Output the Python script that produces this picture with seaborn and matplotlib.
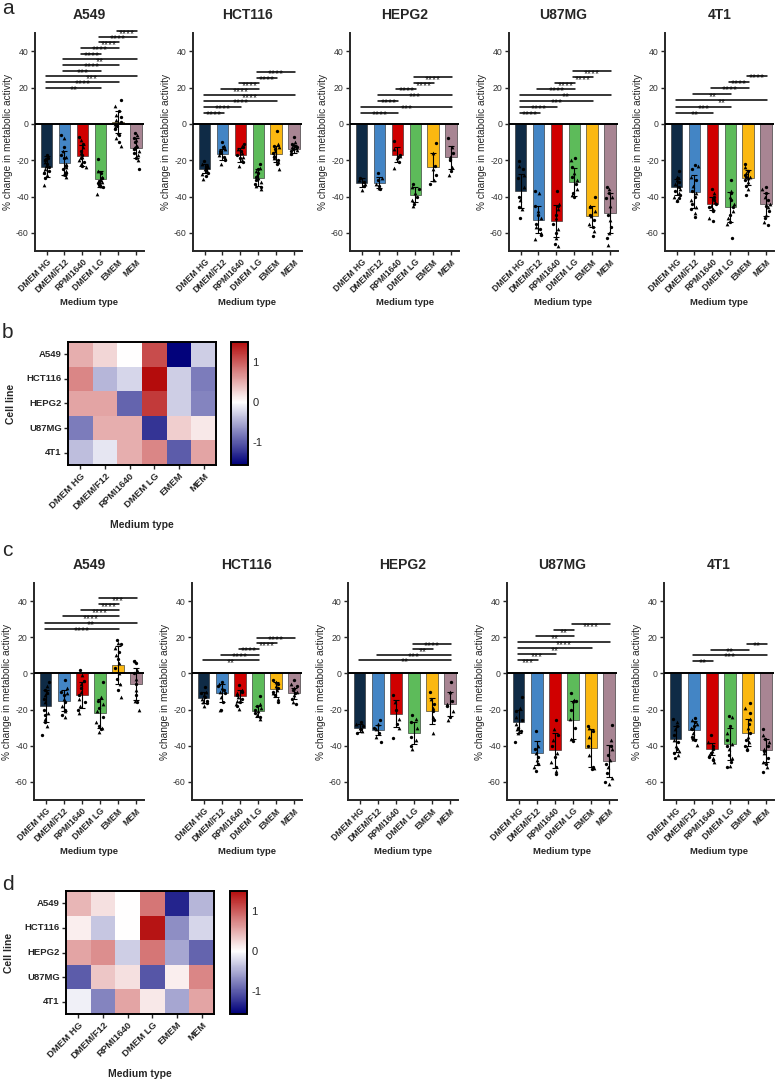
import numpy as np
import pandas as pd
import matplotlib
matplotlib.use("Agg")
import matplotlib.pyplot as plt
from matplotlib.colors import LinearSegmentedColormap
import seaborn as sns

sns.set_style("ticks")
plt.rcParams['font.family'] = ['Liberation Sans', 'DejaVu Sans']

MEDIA = ["DMEM HG", "DMEM/F12", "RPMI1640", "DMEM LG", "EMEM", "MEM"]
CELL_LINES = ["A549", "HCT116", "HEPG2", "U87MG", "4T1"]
BAR_COLORS = ["#0f2b46", "#4385c5", "#d00000", "#5dbb5a", "#fbb811", "#a88593"]

# ---------------- panel a ----------------
a_A549_mean = [-23.5, -21.7, -17.6, -30.5, 1.0, -13.3]
a_A549_sd = [6.0, 6.5, 5.8, 4.4, 6.0, 5.4]
a_A549_pts = [
    [-17, -18, -19, -19.5, -20, -21, -22, -23, -24, -25, -26, -26.5, -27, -28, -30, -33.5],
    [-6, -8, -13, -15, -17, -18, -19, -22, -23, -24, -25, -26, -27, -27.5, -28, -29],
    [-7.5, -9, -11, -13, -15, -16, -17, -18, -19, -20, -21, -22, -23, -24],
    [-19.5, -26, -27, -29, -30, -31, -31.5, -32, -32.5, -33, -33.5, -34, -35, -38.5],
    [13, 10, 7, 5, 4, 2, 1, 0, -1, -2, -3, -5, -6, -8, -10, -12],
    [-5, -6, -8, -9, -10, -12, -13, -13.5, -14, -15, -16, -17, -19, -20, -25],
]
a_A549_sig = [(0, 3, "**"), (0, 4, "****"), (0, 5, "***"), (1, 3, "***"), (1, 4, "****"),
              (1, 5, "**"), (2, 3, "****"), (2, 4, "****"), (3, 4, "****"), (3, 5, "****"), (4, 5, "****")]

a_HCT116_mean = [-24.6, -16.7, -17.2, -29.6, -16.7, -13.9]
a_HCT116_sd = [2.3, 3.0, 3.8, 4.5, 4.5, 2.3]
a_HCT116_pts = [
    [-20.5, -22, -23, -24, -24.5, -25, -25.5, -26, -27, -27.5, -28.5, -30.5],
    [-10, -12, -13, -14, -15, -15.5, -16, -17, -18, -19, -20, -22],
    [-11, -12, -13, -14, -15, -16, -17, -18, -19, -20, -21, -23],
    [-22, -24.5, -25, -26, -27, -28, -29, -30, -31, -32, -33, -34, -35, -36],
    [-4, -11, -12, -13, -14, -15, -16, -17, -18, -19, -20, -21, -22, -25],
    [-7, -10, -11, -11.5, -12, -12.5, -13, -13.5, -14, -14.5, -15, -16, -16.5],
]
a_HCT116_sig = [(0, 1, "****"), (0, 2, "****"), (0, 4, "****"), (0, 5, "****"),
                (1, 3, "****"), (2, 3, "****"), (3, 4, "****"), (3, 5, "****")]

a_HEPG2_mean = [-32.4, -32.4, -17.0, -38.9, -23.7, -18.5]
a_HEPG2_sd = [2.5, 3.0, 4.0, 4.0, 7.5, 6.5]
a_HEPG2_pts = [
    [-30, -31, -32, -33, -34, -36.5],
    [-27, -30, -31, -33, -34, -35.5, -36],
    [-9.5, -14, -17, -17.5, -18, -19, -21, -24.5],
    [-33, -35, -36, -38, -40, -42, -44, -45],
    [-10.5, -16, -23, -25, -28, -31, -33],
    [-8, -13, -16, -18, -20, -24, -26, -28],
]
a_HEPG2_sig = [(0, 2, "****"), (0, 5, "***"), (1, 2, "****"), (1, 5, "***"),
               (2, 3, "****"), (3, 4, "****"), (3, 5, "****")]

a_U87MG_mean = [-37.0, -52.8, -53.3, -32.0, -51.0, -49.0]
a_U87MG_sd = [9.5, 7.3, 8.8, 7.5, 5.8, 11.0]
a_U87MG_pts = [
    [-20.5, -23, -25, -28, -30, -35, -40, -42, -46, -47, -52],
    [-37, -38, -45, -48, -50, -52, -55, -57, -58, -60, -61, -63.5],
    [-37, -44, -45, -47, -50, -52, -55, -58, -60, -63, -66, -67],
    [-19, -20, -24, -27, -29, -31, -33, -36, -38, -39, -40.5],
    [-40, -45, -46, -48, -50, -51, -53, -55, -57, -59, -61.5],
    [-35, -36, -38, -40, -41, -45, -50, -53, -57, -60, -63, -66.5],
]
a_U87MG_sig = [(0, 1, "****"), (0, 2, "****"), (0, 4, "***"), (0, 5, "**"),
               (1, 3, "****"), (2, 3, "****"), (3, 4, "****"), (3, 5, "****")]

a_4T1_mean = [-34.8, -37.4, -43.9, -45.7, -29.6, -44.4]
a_4T1_sd = [4.5, 9.0, 3.5, 8.3, 4.0, 6.3]
a_4T1_pts = [
    [-26, -29, -30, -31, -32, -33, -35, -36, -37, -38, -39, -40, -41, -42, -42.5],
    [-22.5, -23, -25, -29, -31, -34, -37, -38, -40, -42, -44, -46, -47, -49, -51.5],
    [-36, -38, -40, -41, -42, -43, -44, -45, -46, -47, -48, -52, -53.5],
    [-31, -37, -38, -40, -42, -44, -46, -48, -50, -52, -54, -55, -63],
    [-22, -24, -26, -27, -28, -29, -29.5, -30, -31, -32, -34, -36, -39],
    [-35, -36, -38, -40, -42, -44, -45, -46, -48, -50, -52, -54, -55.5],
]
a_4T1_sig = [(0, 2, "**"), (0, 3, "***"), (0, 5, "**"), (1, 3, "**"),
             (2, 4, "****"), (3, 4, "****"), (4, 5, "****")]

# ---------------- panel c ----------------
c_A549_mean = [-18.0, -15.0, -12.0, -22.0, 4.6, -5.9]
c_A549_sd = [9.0, 6.0, 7.3, 8.0, 10.3, 9.0]
c_A549_pts = [
    [-5, -7, -9, -10, -11, -12, -14, -16, -20, -22, -23, -25, -27, -29, -34],
    [-3.5, -8, -10, -11, -12, -14, -16, -18, -20, -21, -23, -24],
    [2, -1, -4, -6, -8, -10, -12, -14, -16, -18, -20, -22],
    [-4.5, -13, -15, -17, -19, -21, -24, -27, -29, -30, -31, -32.5],
    [18.5, 17, 16, 14, 12, 10, 8, 6, 3, 0, -3, -6, -9, -13],
    [7, 7, 6, 2, 0, -3, -6, -9, -12, -15, -16, -20],
]
c_A549_sig = [(0, 4, "****"), (0, 5, "**"), (1, 4, "****"), (2, 4, "****"), (3, 4, "****"), (3, 5, "***")]

c_HCT116_mean = [-13.4, -10.6, -12.5, -21.0, -8.8, -11.0]
c_HCT116_sd = [3.2, 5.0, 3.5, 3.0, 4.2, 3.0]
c_HCT116_pts = [
    [-7.5, -10, -11, -12, -13, -14, -15, -16, -16.5, -18],
    [-4.5, -6, -7, -8, -9, -10, -11, -13, -16, -20, -20.5],
    [-6.5, -9, -10, -11, -12, -13, -14, -15, -16, -17, -18, -19.5],
    [-12.5, -17, -18, -19, -20, -21, -22, -23, -24, -25],
    [-3.5, -5, -6, -7, -8, -9, -10, -11, -12, -14, -16],
    [-3.5, -6, -7, -8, -9, -10, -11, -12, -14, -16, -17],
]
c_HCT116_sig = [(0, 3, "**"), (1, 3, "****"), (2, 3, "****"), (3, 4, "****"), (3, 5, "****")]

c_HEPG2_mean = [-30.2, -31.1, -22.2, -33.0, -20.7, -17.0]
c_HEPG2_sd = [2.2, 2.8, 7.3, 6.3, 7.0, 6.8]
c_HEPG2_pts = [
    [-27, -28, -29, -30, -31, -32, -33],
    [-25.5, -28, -30, -31, -33, -35, -38],
    [-12, -16, -20, -25, -28, -30, -35.5],
    [-23, -25, -27, -30, -35, -37, -40, -42],
    [-10.5, -14, -17, -19, -21, -24, -26, -33],
    [-5, -10, -15, -17, -18, -21, -24, -26],
]
c_HEPG2_sig = [(0, 5, "**"), (1, 5, "***"), (3, 4, "**"), (3, 5, "****")]

c_U87MG_mean = [-26.6, -44.0, -42.6, -26.0, -41.0, -48.6]
c_U87MG_sd = [6.5, 6.8, 9.8, 10.5, 10.5, 8.8]
c_U87MG_pts = [
    [-13, -19, -21, -24, -26, -28, -30, -31, -32, -33, -38],
    [-32, -40, -42, -44, -46, -48, -50, -52, -54],
    [-25.5, -31, -34, -37, -40, -44, -46, -49, -52, -54, -55.5],
    [-11, -14.5, -15, -15.5, -20, -25, -30, -36, -37.5],
    [-29, -30, -32, -35, -40, -45, -52, -52.5, -53],
    [-28.5, -37, -40, -42, -45, -48, -50, -52, -55, -58, -60, -61],
]
c_U87MG_sig = [(0, 1, "***"), (0, 2, "***"), (0, 4, "**"), (0, 5, "****"),
               (1, 3, "**"), (2, 3, "**"), (3, 5, "****")]

c_4T1_mean = [-36.3, -31.2, -41.8, -39.0, -32.7, -42.6]
c_4T1_sd = [7.2, 5.0, 3.3, 8.7, 7.7, 6.5]
c_4T1_pts = [
    [-25, -27, -29, -31, -34, -37, -38, -40, -42, -43, -44, -45, -46.5],
    [-24.5, -26, -27, -28, -29, -30, -31, -33, -35, -36, -37, -39.5],
    [-34, -38, -40, -41, -42, -43, -44, -45, -46, -47, -48, -49],
    [-23.5, -24, -29, -33, -37, -39, -40, -42, -45, -47, -49, -51, -52],
    [-16.5, -19, -22, -25, -28, -30, -33, -35, -37, -38, -40, -41, -42.5],
    [-31, -34, -36, -38, -40, -42, -43, -44, -47, -49, -50, -52, -54.5],
]
c_4T1_sig = [(1, 2, "**"), (1, 5, "***"), (2, 4, "**"), (4, 5, "**")]

# ---------------- heatmaps (b, d) ----------------
b_heat = [
    [0.50, 0.25, 0.00, 1.10, -1.55, -0.30],
    [0.75, -0.45, -0.25, 1.50, -0.30, -0.80],
    [0.55, 0.55, -0.95, 1.20, -0.30, -0.75],
    [-0.80, 0.50, 0.50, -1.25, 0.30, 0.15],
    [-0.40, -0.15, 0.50, 0.75, -1.00, 0.55],
]
d_heat = [
    [0.45, 0.20, 0.00, 0.85, -1.35, -0.45],
    [0.10, -0.35, 0.00, 1.45, -0.70, -0.25],
    [0.55, 0.70, -0.30, 0.85, -0.55, -0.95],
    [-1.00, 0.35, 0.20, -1.05, 0.10, 0.75],
    [-0.10, -0.75, 0.55, 0.15, -0.55, 0.55],
]

panel_a = {
    "A549": (a_A549_mean, a_A549_sd, a_A549_pts, a_A549_sig),
    "HCT116": (a_HCT116_mean, a_HCT116_sd, a_HCT116_pts, a_HCT116_sig),
    "HEPG2": (a_HEPG2_mean, a_HEPG2_sd, a_HEPG2_pts, a_HEPG2_sig),
    "U87MG": (a_U87MG_mean, a_U87MG_sd, a_U87MG_pts, a_U87MG_sig),
    "4T1": (a_4T1_mean, a_4T1_sd, a_4T1_pts, a_4T1_sig),
}
panel_c = {
    "A549": (c_A549_mean, c_A549_sd, c_A549_pts, c_A549_sig),
    "HCT116": (c_HCT116_mean, c_HCT116_sd, c_HCT116_pts, c_HCT116_sig),
    "HEPG2": (c_HEPG2_mean, c_HEPG2_sd, c_HEPG2_pts, c_HEPG2_sig),
    "U87MG": (c_U87MG_mean, c_U87MG_sd, c_U87MG_pts, c_U87MG_sig),
    "4T1": (c_4T1_mean, c_4T1_sd, c_4T1_pts, c_4T1_sig),
}

# layout: bracket base heights / steps
a_base = {"A549": (20, 3.1), "HCT116": (6, 3.25), "HEPG2": (6.1, 3.25), "U87MG": (6.1, 3.25), "4T1": (6.1, 3.4)}
c_base = {"A549": (24.8, 3.35), "HCT116": (7.3, 3.1), "HEPG2": (7.4, 3.0), "U87MG": (7.3, 3.3), "4T1": (7.0, 3.1)}

W, H = 778, 1081
fig = plt.figure(figsize=(W / 100, H / 100), dpi=100)


def px_axes(left, top, width, height):
    return fig.add_axes([left / W, 1 - (top + height) / H, width / W, height / H])


np.random.seed(3)


def bar_panel(ax, name, data, base):
    means, sds, pts, sig = data
    sns.barplot(x=MEDIA, y=means, hue=MEDIA, palette=BAR_COLORS, order=MEDIA, hue_order=MEDIA,
                legend=False, width=0.64, errorbar=None, ax=ax, edgecolor="#222222",
                linewidth=0.4, saturation=1, zorder=2)
    rows = []
    for m, vals in zip(MEDIA, pts):
        for k, v in enumerate(vals):
            rows.append({"medium": m, "value": v, "mk": "o" if k % 2 == 0 else "^"})
    df = pd.DataFrame(rows)
    for mk, sz in (("o", 2.4), ("^", 2.7)):
        sub = df[df["mk"] == mk]
        sns.stripplot(data=sub, x="medium", y="value", order=MEDIA, color="black", marker=mk,
                      size=sz, jitter=0.2, linewidth=0, ax=ax, zorder=4)
    ax.errorbar(np.arange(len(MEDIA)), means, yerr=sds, fmt="none", ecolor="black",
                elinewidth=0.8, capsize=2.2, capthick=0.8, zorder=5)
    ax.axhline(0, color="black", lw=1.4, zorder=6)
    y0, step = base
    for k, (i, j, s) in enumerate(sig):
        y = y0 + k * step
        ax.plot([i - 0.06, j + 0.06], [y, y], color="black", lw=1.1, clip_on=False, zorder=6)
        ax.annotate(s, xy=((i + j) / 2, y), xytext=(0, -3.9), textcoords="offset points",
                    ha="center", va="baseline", fontsize=7.4, color="#222222",
                    annotation_clip=False)
    ax.set_ylim(-70, 50)
    ax.set_xlim(-0.65, 5.45)
    ax.set_yticks([-60, -40, -20, 0, 20, 40])
    ax.set_yticklabels(["-60", "-40", "-20", "0", "20", "40"], fontsize=6.3, color="#333333")
    ax.set_xticks(range(len(MEDIA)))
    ax.set_xticklabels(MEDIA, rotation=45, ha="right", rotation_mode="anchor",
                       fontsize=6.2, fontweight="bold")
    ax.tick_params(axis="both", length=3, width=1, pad=1.5)
    for sp in ("top", "right"):
        ax.spines[sp].set_visible(False)
    for sp in ("left", "bottom"):
        ax.spines[sp].set_linewidth(1.4)
    ax.set_title(name, fontsize=10, fontweight="bold", pad=10)
    ax.set_ylabel("% change in metabolic activity", fontsize=7.3)
    ax.yaxis.set_label_coords(-0.2, 0.5)
    ax.set_xlabel("Medium type", fontsize=6.8, fontweight="bold")
    ax.xaxis.set_label_coords(0.5, -0.215)


a_lefts = [35, 193, 350, 509, 665]
c_lefts = [34, 192, 348, 507, 664]
for left, name in zip(a_lefts, CELL_LINES):
    ax = px_axes(left, 33, 109, 218)
    bar_panel(ax, name, panel_a[name], a_base[name])
for left, name in zip(c_lefts, CELL_LINES):
    ax = px_axes(left, 583, 110, 217)
    bar_panel(ax, name, panel_c[name], c_base[name])

cmap = LinearSegmentedColormap.from_list("bwr_gp", ["#00007a", "#ffffff", "#b00000"])


def heat_panel(left, top, cleft, vals):
    axh = px_axes(left, top, 148, 123)
    cax = px_axes(cleft, top, 17, 123)
    df = pd.DataFrame(vals, index=CELL_LINES, columns=MEDIA)
    sns.heatmap(df, ax=axh, cbar_ax=cax, cmap=cmap, vmin=-1.58, vmax=1.5, center=0,
                linewidths=0)
    for sp in axh.spines.values():
        sp.set_visible(True)
        sp.set_linewidth(1.4)
        sp.set_color("black")
    axh.set_xticklabels(MEDIA, rotation=45, ha="right", rotation_mode="anchor",
                        fontsize=6.8, fontweight="bold")
    axh.set_yticklabels(CELL_LINES, rotation=0, fontsize=6.8, fontweight="bold")
    axh.tick_params(axis="both", length=3, width=1, pad=1.5)
    axh.set_ylabel("Cell line", fontsize=7.5, fontweight="bold")
    axh.yaxis.set_label_coords(-0.35, 0.5)
    axh.set_xlabel("Medium type", fontsize=7.5, fontweight="bold")
    axh.xaxis.set_label_coords(0.5, -0.45)
    cb = axh.collections[0].colorbar
    cb.outline.set_linewidth(1.4)
    cb.outline.set_edgecolor("black")
    cb.set_ticks([-1, 0, 1])
    cb.set_ticklabels(["-1", "0", "1"])
    cax.tick_params(labelsize=8, direction="in", length=3, width=0.8, pad=3)


heat_panel(68, 342, 231, b_heat)
heat_panel(66, 891, 230, d_heat)

for lab, ypx in (("a", 8), ("b", 333), ("c", 551), ("d", 884)):
    fig.text(2 / W, 1 - ypx / H, lab, fontsize=15, va="center", ha="left")

fig.savefig("out.png", dpi=100)
